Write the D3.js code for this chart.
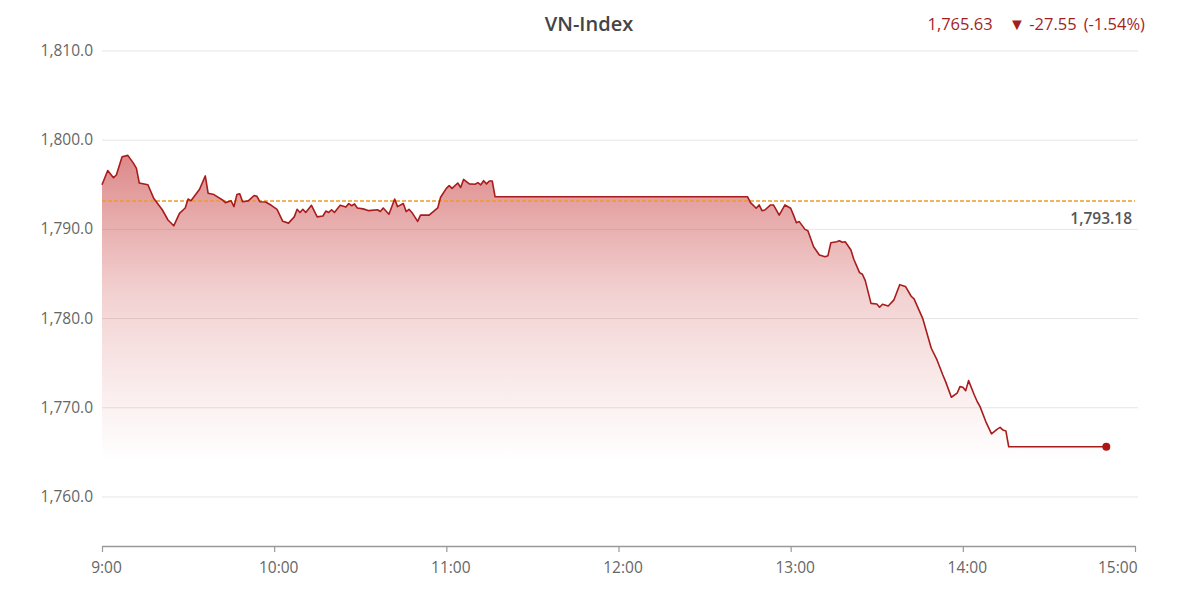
<!DOCTYPE html>
<html>
<head>
<meta charset="utf-8">
<script src="https://cdn.jsdelivr.net/npm/d3@7"></script>
<style>
    body { margin: 0; background: #fff; }
    svg { display: block; font-family: "Open Sans", sans-serif; }
</style>
</head>
<body>
<svg id="chart" width="1200" height="595"></svg>
<script>
var width = 1200;
var height = 595;

// intraday points
var times = ["9:00", "9:02", "9:04", "9:05", "9:07", "9:09", "9:11", "9:12", "9:13", "9:16",
    "9:18", "9:21", "9:23", "9:25", "9:27", "9:29", "9:30", "9:31", "9:34", "9:36",
    "9:37", "9:39", "9:42", "9:43", "9:45", "9:46", "9:47", "9:48", "9:49", "9:51",
    "9:53", "9:54", "9:55", "9:57", "9:59", "10:01", "10:03", "10:05", "10:07", "10:08",
    "10:09", "10:10", "10:11", "10:13", "10:15", "10:17", "10:18", "10:19", "10:20", "10:21",
    "10:23", "10:25", "10:26", "10:27", "10:28", "10:29", "10:31", "10:33", "10:36", "10:37",
    "10:38", "10:40", "10:42", "10:43", "10:45", "10:46", "10:47", "10:48", "10:50", "10:51",
    "10:54", "10:57", "10:58", "11:00", "11:01", "11:02", "11:04", "11:05", "11:06", "11:08",
    "11:10", "11:11", "11:12", "11:13", "11:14", "11:15", "11:16", "11:17", "12:45", "12:46",
    "12:48", "12:49", "12:50", "12:51", "12:53", "12:54", "12:56", "12:58", "13:00", "13:01",
    "13:02", "13:03", "13:05", "13:06", "13:08", "13:10", "13:12", "13:13", "13:14", "13:16",
    "13:17", "13:18", "13:19", "13:21", "13:22", "13:24", "13:25", "13:26", "13:28", "13:30",
    "13:31", "13:32", "13:34", "13:36", "13:38", "13:40", "13:42", "13:43", "13:46", "13:49",
    "13:51", "13:53", "13:54", "13:56", "13:58", "13:59", "14:00", "14:01", "14:02", "14:04",
    "14:05", "14:06", "14:08", "14:10", "14:12", "14:13", "14:14", "14:15", "14:16", "14:50"];

var values = [1795.0, 1796.6, 1795.8, 1796.1, 1798.15, 1798.3, 1797.4, 1796.85, 1795.2, 1795.0,
    1793.5, 1792.2, 1791.05, 1790.4, 1791.8, 1792.4, 1793.4, 1793.2, 1794.5, 1796.0,
    1794.05, 1793.9, 1793.3, 1793.0, 1793.2, 1792.55, 1793.9, 1794.0, 1793.1, 1793.2,
    1793.8, 1793.7, 1793.1, 1793.07, 1792.7, 1792.25, 1790.9, 1790.7, 1791.4, 1792.25,
    1791.9, 1792.25, 1791.9, 1792.7, 1791.4, 1791.5, 1792.05, 1791.9, 1792.2, 1791.9,
    1792.7, 1792.5, 1792.9, 1792.65, 1792.85, 1792.4, 1792.3, 1792.1, 1792.2, 1792.0,
    1792.4, 1791.7, 1793.4, 1792.55, 1792.9, 1792.0, 1792.25, 1791.9, 1790.9, 1791.6,
    1791.6, 1792.4, 1793.6, 1794.6, 1794.9, 1794.6, 1795.2, 1794.7, 1795.6, 1795.1,
    1795.06, 1795.24, 1795.0, 1795.46, 1795.1, 1795.43, 1795.43, 1793.65, 1793.65, 1793.0,
    1792.37, 1792.74, 1792.1, 1792.17, 1792.74, 1792.74, 1791.6, 1792.74, 1792.37, 1791.6,
    1790.75, 1790.87, 1790.0, 1789.85, 1788.06, 1787.13, 1786.94, 1787.05, 1788.5, 1788.62,
    1788.73, 1788.55, 1788.62, 1787.69, 1786.65, 1785.15, 1784.97, 1784.25, 1781.7, 1781.64,
    1781.27, 1781.6, 1781.41, 1782.1, 1783.8, 1783.6, 1782.5, 1782.2, 1780.03, 1776.67,
    1775.36, 1773.7, 1772.93, 1771.18, 1771.63, 1772.37, 1772.3, 1771.92, 1773.04, 1771.43,
    1770.7, 1770.13, 1768.45, 1767.07, 1767.6, 1767.8, 1767.5, 1767.4, 1765.63, 1765.63];

var refValue = 1793.18;
var yTicks = [1760, 1770, 1780, 1790, 1800, 1810];
var xTicks = ["9:00", "10:00", "11:00", "12:00", "13:00", "14:00", "15:00"];
var title = "VN-Index";
var lastText = "1,765.63";
var changeText = "▼ -27.55";
var pctText = "(-1.54%)";

var parseTime = d3.timeParse("%H:%M");
var data = times.map(function (t, i) {
    return { t: parseTime(t), v: values[i] };
});

var svg = d3.select("svg#chart");

var x = d3.scaleTime()
    .domain([parseTime("9:00"), parseTime("15:00")])
    .range([102, 1135]);

var y = d3.scaleLinear()
    .domain([1754.5, 1810])
    .range([546, 51]);

// gradient under the line
var defs = svg.append("defs");
var grad = defs.append("linearGradient")
    .attr("id", "areaFill")
    .attr("gradientUnits", "userSpaceOnUse")
    .attr("x1", 0).attr("x2", 0)
    .attr("y1", y(1798.5)).attr("y2", y(1764));
grad.append("stop").attr("offset", "0%").attr("stop-color", "#bd1a1a").attr("stop-opacity", 0.52);
grad.append("stop").attr("offset", "45%").attr("stop-color", "#c42a2a").attr("stop-opacity", 0.22);
grad.append("stop").attr("offset", "100%").attr("stop-color", "#d04040").attr("stop-opacity", 0);

// grid lines
svg.append("g")
    .selectAll("line")
    .data(yTicks)
    .enter().append("line")
        .attr("x1", 102)
        .attr("x2", 1138)
        .attr("y1", d => y(d))
        .attr("y2", d => y(d))
        .attr("stroke", "#e6e6e6")
        .attr("stroke-width", 1);

// y labels
svg.append("g")
    .selectAll("text")
    .data(yTicks)
    .enter().append("text")
        .attr("x", 93)
        .attr("y", d => y(d) + 5)
        .attr("text-anchor", "end")
        .attr("fill", "#666")
        .style("font-size", "15.5px")
        .text(d => d3.format(",.1f")(d));

// area + line
var area = d3.area()
    .x(d => x(d.t))
    .y0(y(1754.5))
    .y1(d => y(d.v));

var line = d3.line()
    .x(d => x(d.t))
    .y(d => y(d.v));

svg.append("path")
    .datum(data)
    .attr("fill", "url(#areaFill)")
    .attr("d", area);

// reference (previous close)
svg.append("line")
    .attr("x1", 102)
    .attr("x2", 1135)
    .attr("y1", y(refValue))
    .attr("y2", y(refValue))
    .attr("stroke", "#ec9a2a")
    .attr("stroke-width", 1.4)
    .attr("stroke-dasharray", "4,2");

svg.append("text")
    .attr("x", 1132)
    .attr("y", y(refValue) + 23)
    .attr("text-anchor", "end")
    .attr("fill", "#555")
    .style("font-size", "15.5px")
    .style("font-weight", "600")
    .text(d3.format(",.2f")(refValue));

svg.append("path")
    .datum(data)
    .attr("fill", "none")
    .attr("stroke", "#a81c1c")
    .attr("stroke-width", 1.6)
    .attr("stroke-linejoin", "round")
    .attr("d", line);

var last = data[data.length - 1];
svg.append("circle")
    .attr("cx", x(last.t))
    .attr("cy", y(last.v))
    .attr("r", 4)
    .attr("fill", "#b01515");

// x axis
var xAxis = d3.axisBottom(x)
    .tickValues(xTicks.map(parseTime))
    .tickFormat(d3.timeFormat("%-H:%M"))
    .tickSize(6)
    .tickSizeOuter(0);

var gx = svg.append("g")
    .attr("transform", "translate(0,546)")
    .call(xAxis);
gx.select(".domain").attr("stroke", "#999").attr("stroke-width", 1.5);
gx.selectAll(".tick line").attr("stroke", "#999").attr("stroke-width", 1.2);
gx.selectAll(".tick text")
    .attr("fill", "#666")
    .attr("dy", "1.15em")
    .attr("dx", 4)
    .style("font-size", "15.5px")
    .style("font-family", "'Open Sans', sans-serif");
// last label is pushed inside the plot edge
gx.selectAll(".tick:last-of-type text")
    .attr("text-anchor", "end")
    .attr("dx", 2);

// title and summary
svg.append("text")
    .attr("x", 589)
    .attr("y", 31)
    .attr("text-anchor", "middle")
    .attr("fill", "#444")
    .style("font-size", "20px")
    .style("font-weight", "600")
    .text(title);

var summary = svg.append("text")
    .attr("x", 1145)
    .attr("y", 30)
    .attr("text-anchor", "end")
    .attr("fill", "#a31f1f")
    .style("font-size", "16.5px");
summary.append("tspan").text(lastText);
summary.append("tspan").attr("dx", 16).text(changeText);
summary.append("tspan").attr("dx", 7).text(pctText);
</script>
</body>
</html>
